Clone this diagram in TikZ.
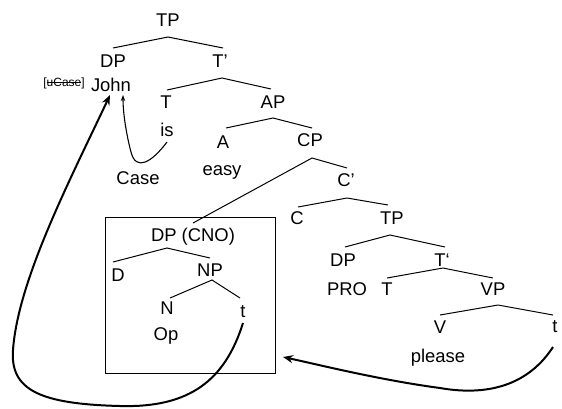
\documentclass[tikz,border=0pt]{standalone}
\usepackage{fontspec}
\setmainfont{Liberation Sans}
\usetikzlibrary{arrows.meta}
\newcommand{\strikeword}[1]{\setbox0\hbox{#1}\rlap{\rule[.3em]{\wd0}{.7pt}}\box0}
\begin{document}
\begin{tikzpicture}[x=1bp,y=-1bp,
  lbl/.style={inner sep=0pt,font=\fontsize{18.5}{20}\selectfont},
  br/.style={line width=1pt},
  bigarrow/.style={line width=2pt,-{Stealth[length=10pt,width=8pt]}},
  smallarrow/.style={line width=1.1pt,-{Stealth[length=6pt,width=4.5pt]}}]
\useasboundingbox (0,0) rectangle (562,408);
% labels
\node[lbl] (tp) at (168,20) {TP};
\node[lbl] (dp) at (113,61) {DP};
\node[lbl] (tbar) at (220,61) {T'};
\node[lbl] (john) at (111,85) {John};
\node[inner sep=0pt,font=\fontsize{12}{13}\selectfont] (ucase) at (64,83) {[\strikeword{uCase}]};
\node[lbl] (t) at (166,102) {T};
\node[lbl] (ap) at (273,102) {AP};
\node[lbl] (is) at (167,130) {is};
\node[lbl] (a) at (223,142) {A};
\node[lbl] (cp) at (310,140) {CP};
\node[lbl] (case) at (138,178) {Case};
\node[lbl] (easy) at (222,172) {easy};
\node[lbl] (cbar) at (346,180) {C'};
\node[lbl] (c) at (297,218) {C};
\node[lbl] (tp2) at (392,218) {TP};
\node[lbl] (dpcno) at (193,237) {DP (CNO)};
\node[lbl] (dp2) at (343,260) {DP};
\node[lbl] (tbar2) at (442,260) {T‘};
\node[lbl] (d) at (118,275) {D};
\node[lbl] (np) at (210,270) {NP};
\node[lbl] (pro) at (347,289) {PRO};
\node[lbl] (t2) at (387,289) {T};
\node[lbl] (vp) at (493,289) {VP};
\node[lbl] (n) at (167,308) {N};
\node[lbl] (tr1) at (243,312) {t};
\node[lbl] (op) at (166,336) {Op};
\node[lbl] (v) at (440,327) {V};
\node[lbl] (tr2) at (555,327) {t};
\node[lbl] (please) at (438,358) {please};
% box
\draw[line width=0.8pt] (105,217) rectangle (275,373);
% branches
\draw[br] (113,48) -- (168,37) -- (223,48);
\draw[br] (167,90) -- (222,78) -- (271,89);
\draw[br] (226,128) -- (273,118) -- (312,128);
\draw[br] (193,223) -- (312,158) -- (347,168);
\draw[br] (298,207) -- (347,198) -- (388,205);
\draw[br] (345,247) -- (390,235) -- (445,247);
\draw[br] (387,278) -- (443,268) -- (493,278);
\draw[br] (113,262) -- (167,248) -- (210,258);
\draw[br] (170,298) -- (212,280) -- (240,298);
\draw[br] (440,315) -- (498,305) -- (553,315);
% arrows
\coordinate (isfoot) at (167,142);
\coordinate (johnfoot) at (123,95);
\coordinate (johnfoot2) at (110,95);
\coordinate (tr1foot) at (243,323);
\coordinate (tr2foot) at (553,347);
\coordinate (boxright) at (283,357);
\draw[smallarrow] (isfoot) .. controls (152,162) and (136,172) .. (131,152) .. controls (127,137) and (123,115) .. (johnfoot);
\draw[bigarrow] (tr1foot) .. controls (225,380) and (190,408) .. (120,406) .. controls (40,404) and (10,390) .. (13,350) .. controls (18,280) and (70,180) .. (johnfoot2);
\draw[bigarrow] (tr2foot) .. controls (525,390) and (480,395) .. (440,388) .. controls (380,380) and (320,365) .. (boxright);
\end{tikzpicture}
\end{document}
